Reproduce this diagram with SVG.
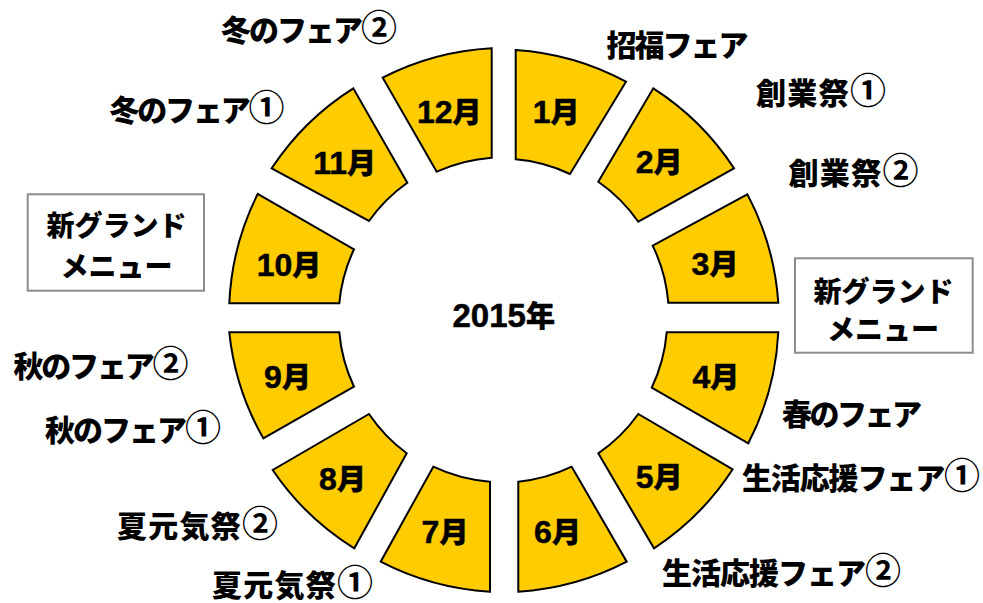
<svg xmlns="http://www.w3.org/2000/svg" width="983" height="603" viewBox="0 0 983 603">
<style>
.seg{fill:#FFCC00;stroke:#000;stroke-width:2;stroke-linejoin:miter}
.m{font-family:"Liberation Sans","Noto Sans CJK JP",sans-serif;font-weight:700;text-anchor:middle;fill:#000;stroke:#000;stroke-width:0.5}
.d{font-size:32px}
.k{font-family:"Noto Sans CJK JP",sans-serif;font-size:29px;font-weight:900}
.lb{font-family:"Noto Sans CJK JP",sans-serif;font-weight:900;font-size:30px;fill:#000}
.c{font-size:36px;font-weight:700}
.bx{font-family:"Noto Sans CJK JP",sans-serif;font-weight:900;font-size:28px;fill:#000;text-anchor:middle}
.box{fill:#fff;stroke:#8c8c8c;stroke-width:2}
</style>
<rect width="983" height="603" fill="#fff"/>
<g id="ring">
<g id="m1"><path class="seg" d="M515.7,50 A270,270 0 0 1 626,81.7 L570,174 A160,160 0 0 0 515.7,159.3 Z"/><text class="m" x="556.2" y="122.5"><tspan class="d">1</tspan><tspan class="k">月</tspan></text></g>
<g id="m2"><path class="seg" d="M653.3,88.3 A270,270 0 0 1 734,168.3 L638.3,221.7 A160,160 0 0 0 598.3,181.7 Z"/><text class="m" x="659.2" y="173"><tspan class="d">2</tspan><tspan class="k">月</tspan></text></g>
<g id="m3"><path class="seg" d="M747.3,194.3 A270,270 0 0 1 778.3,302.7 L668.3,302.7 A160,160 0 0 0 652.7,245.7 Z"/><text class="m" x="715" y="275"><tspan class="d">3</tspan><tspan class="k">月</tspan></text></g>
<g id="m4"><path class="seg" d="M778.3,332.3 A270,270 0 0 1 748.3,443.3 L651.7,387.7 A160,160 0 0 0 666.7,332.3 Z"/><text class="m" x="715.8" y="387.5"><tspan class="d">4</tspan><tspan class="k">月</tspan></text></g>
<g id="m5"><path class="seg" d="M732.7,469.3 A270,270 0 0 1 654,548.3 L598.3,453.3 A160,160 0 0 0 638.3,414 Z"/><text class="m" x="659.2" y="488"><tspan class="d">5</tspan><tspan class="k">月</tspan></text></g>
<g id="m6"><path class="seg" d="M626.7,561.7 A270,270 0 0 1 518.3,591.7 L518.3,481.7 A160,160 0 0 0 571.7,466.7 Z"/><text class="m" x="557.5" y="542.5"><tspan class="d">6</tspan><tspan class="k">月</tspan></text></g>
<g id="m7"><path class="seg" d="M490,591.7 A270,270 0 0 1 380.7,561.7 L433.3,466.7 A160,160 0 0 0 490,481.7 Z"/><text class="m" x="445" y="542.5"><tspan class="d">7</tspan><tspan class="k">月</tspan></text></g>
<g id="m8"><path class="seg" d="M354.3,548.3 A270,270 0 0 1 272.7,470 L369,414 A160,160 0 0 0 406.7,453.3 Z"/><text class="m" x="342.5" y="490"><tspan class="d">8</tspan><tspan class="k">月</tspan></text></g>
<g id="m9"><path class="seg" d="M263.3,438.3 A270,270 0 0 1 229.3,332.3 L339.3,332.3 A160,160 0 0 0 354,386.7 Z"/><text class="m" x="287.5" y="388.3"><tspan class="d">9</tspan><tspan class="k">月</tspan></text></g>
<g id="m10"><path class="seg" d="M229.3,303.3 A270,270 0 0 1 257.7,194 L354,249.3 A160,160 0 0 0 339.3,303.3 Z"/><text class="m" x="289" y="275.5"><tspan class="d">10</tspan><tspan class="k">月</tspan></text></g>
<g id="m11"><path class="seg" d="M271.7,168.3 A270,270 0 0 1 353.3,88.3 L407.3,182.7 A160,160 0 0 0 369,221 Z"/><text class="m" x="344.7" y="174"><tspan class="d">11</tspan><tspan class="k">月</tspan></text></g>
<g id="m12"><path class="seg" d="M382.7,77.7 A270,270 0 0 1 491.7,48.3 L491.7,157.7 A160,160 0 0 0 436.7,171.7 Z"/><text class="m" x="449.3" y="123"><tspan class="d">12</tspan><tspan class="k">月</tspan></text></g>
</g>
<g id="center"><text class="m" x="503.7" y="326.5"><tspan style="font-size:33px">2015</tspan><tspan class="k">年</tspan></text></g>
<g id="labels">
<text class="lb" x="221" y="41" textLength="176">冬のフェア<tspan class="c">②</tspan></text>
<text class="lb" x="109.5" y="121" textLength="175">冬のフェア<tspan class="c">①</tspan></text>
<text class="lb" x="606.5" y="56" textLength="142">招福フェア</text>
<text class="lb" x="756" y="104" textLength="130">創業祭<tspan class="c">①</tspan></text>
<text class="lb" x="788.5" y="184" textLength="130">創業祭<tspan class="c">②</tspan></text>
<text class="lb" x="782" y="425" textLength="140">春のフェア</text>
<text class="lb" x="742" y="489" textLength="238">生活応援フェア<tspan class="c">①</tspan></text>
<text class="lb" x="662" y="584" textLength="239">生活応援フェア<tspan class="c">②</tspan></text>
<text class="lb" x="13.5" y="376.5" textLength="175">秋のフェア<tspan class="c">②</tspan></text>
<text class="lb" x="45" y="440.5" textLength="176">秋のフェア<tspan class="c">①</tspan></text>
<text class="lb" x="117" y="536.5" textLength="161">夏元気祭<tspan class="c">②</tspan></text>
<text class="lb" x="212" y="596" textLength="161">夏元気祭<tspan class="c">①</tspan></text>
</g>
<g id="boxL"><rect class="box" x="27.7" y="194.3" width="176.3" height="96.4"/><text class="bx" x="116.5" y="236">新グランド</text><text class="bx" x="116.5" y="277">メニュー</text></g>
<g id="boxR"><rect class="box" x="795" y="258.3" width="177.7" height="94.4"/><text class="bx" x="883.5" y="302">新グランド</text><text class="bx" x="883" y="339.5">メニュー</text></g>
</svg>
